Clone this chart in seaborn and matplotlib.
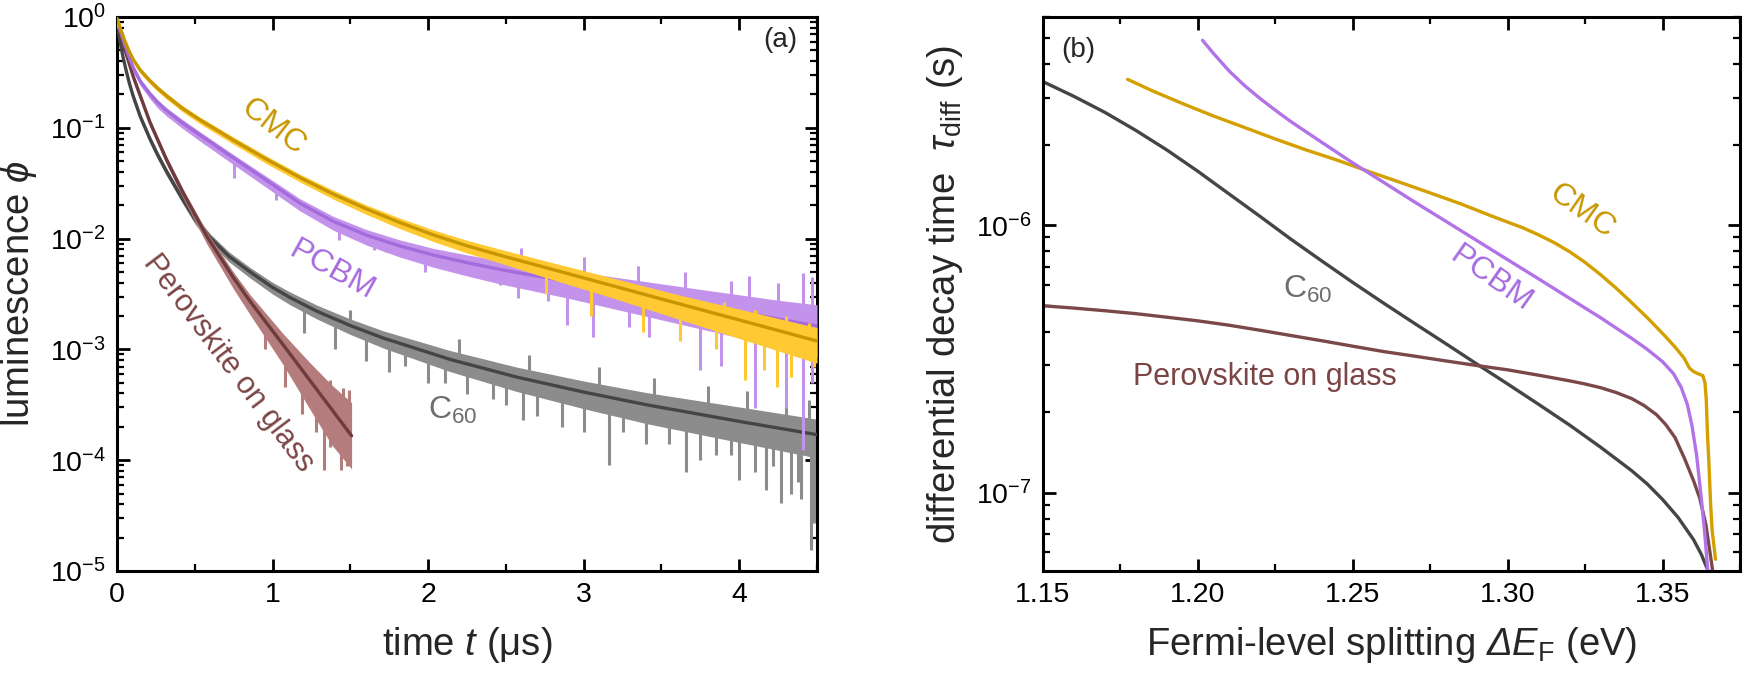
import numpy as np
import pandas as pd
import seaborn as sns
import matplotlib
matplotlib.use("Agg")
import matplotlib.pyplot as plt
from matplotlib.ticker import FixedLocator, MultipleLocator, LogLocator, FuncFormatter, NullFormatter

# ---------------- panel (a): luminescence transients ----------------
cmc_t = [0, 0.008, 0.025, 0.05, 0.075, 0.105, 0.15, 0.212, 0.26, 0.319, 0.42, 0.533, 0.747,
         0.962, 1.176, 1.39, 1.605, 1.819, 2.033, 2.247, 2.461, 2.761, 3.19, 3.618, 4.047, 4.5]
cmc_fit = [0.955, 0.908, 0.759, 0.610, 0.501, 0.412, 0.331, 0.266, 0.229, 0.194, 0.150, 0.118,
           0.0774, 0.0519, 0.0356, 0.0252, 0.0185, 0.01396, 0.01081, 0.00863, 0.00708, 0.00545,
           0.00374, 0.00257, 0.00177, 0.00119]
cmc_up = [0.03, 0.02, 0.02, 0.02, 0.02, 0.02, 0.02, 0.02, 0.02, 0.025, 0.025, 0.025, 0.03, 0.03,
          0.03, 0.035, 0.035, 0.04, 0.045, 0.05, 0.055, 0.06, 0.07, 0.08, 0.10, 0.12]
cmc_dn = [0.08, 0.03, 0.03, 0.03, 0.03, 0.03, 0.03, 0.03, 0.03, 0.03, 0.03, 0.035, 0.035, 0.04,
          0.04, 0.045, 0.05, 0.055, 0.06, 0.065, 0.07, 0.09, 0.11, 0.14, 0.17, 0.20]
cmc_spk_t = [2.76, 3.05, 3.38, 3.62, 3.85, 4.04, 4.16, 4.24, 4.33, 4.48]
cmc_spk = [0.00316, 0.00200, 0.00145, 0.00120, 0.00100, 5.25e-4, 6.46e-4, 4.57e-4, 5.62e-4, 6.92e-4]
cmc_upk_t = [3.9, 4.1, 4.3, 4.45]
cmc_upk = [2.69e-3, 2.29e-3, 2.0e-3, 1.74e-3]

pcbm_t = [0, 0.008, 0.025, 0.05, 0.075, 0.105, 0.15, 0.212, 0.26, 0.319, 0.42, 0.533, 0.747,
          0.962, 1.176, 1.39, 1.605, 1.819, 2.033, 2.247, 2.461, 2.9, 3.3, 3.7, 4.26, 4.5]
pcbm_fit = [0.955, 0.871, 0.724, 0.562, 0.447, 0.347, 0.263, 0.202, 0.170, 0.143, 0.111, 0.0861,
            0.0537, 0.0335, 0.0209, 0.01432, 0.01074, 0.00857, 0.00711, 0.00608, 0.00527,
            0.00409, 0.00325, 0.00258, 0.00187, 0.00163]
pcbm_up = [0.03, 0.02, 0.02, 0.02, 0.02, 0.02, 0.02, 0.025, 0.025, 0.025, 0.03, 0.03, 0.03,
           0.035, 0.04, 0.045, 0.05, 0.055, 0.06, 0.07, 0.08, 0.10, 0.12, 0.14, 0.17, 0.19]
pcbm_dn = [0.08, 0.04, 0.04, 0.04, 0.04, 0.04, 0.04, 0.045, 0.05, 0.05, 0.05, 0.055, 0.06,
           0.065, 0.07, 0.08, 0.09, 0.10, 0.11, 0.12, 0.13, 0.15, 0.18, 0.21, 0.25, 0.28]
pcbm_spk_t = [0.75, 1.02, 1.43, 1.65, 1.73, 1.98, 2.31, 2.46, 2.58, 2.77, 2.89, 3.06, 3.29,
              3.42, 3.75, 3.88, 4.10, 4.30, 4.41, 4.47]
pcbm_spk = [0.0355, 0.0224, 0.00977, 0.00794, 0.00759, 0.00501, 0.00468, 0.00380, 0.00288,
            0.00275, 0.00166, 0.00129, 0.00158, 0.00129, 6.46e-4, 7.08e-4, 2.95e-4, 2.95e-4,
            1.23e-4, 5.01e-4]
pcbm_upk_t = [2.6, 3.0, 3.35, 3.65, 3.95, 4.06, 4.25, 4.41, 4.47]
pcbm_upk = [8.3e-3, 6.76e-3, 5.62e-3, 5.01e-3, 4.17e-3, 4.57e-3, 3.98e-3, 4.9e-3, 4.47e-3]

c60_t = [0, 0.01, 0.019, 0.04, 0.06, 0.08, 0.103, 0.15, 0.212, 0.26, 0.321, 0.424, 0.5, 0.598,
         0.72, 0.855, 1.0, 1.11, 1.285, 1.5, 1.709, 2.14, 2.571, 3.0, 3.406, 4.0, 4.5]
c60_fit = [0.912, 0.724, 0.603, 0.427, 0.324, 0.251, 0.195, 0.126, 0.0794, 0.0575, 0.0398,
           0.0224, 0.0151, 0.01023, 0.00692, 0.00501, 0.00363, 0.00295, 0.00221, 0.00164,
           0.00127, 8.13e-4, 5.62e-4, 4.12e-4, 3.16e-4, 2.24e-4, 1.70e-4]
c60_up = [0.05, 0.03, 0.03, 0.03, 0.03, 0.03, 0.03, 0.03, 0.03, 0.03, 0.03, 0.03, 0.035, 0.035,
          0.04, 0.04, 0.045, 0.05, 0.055, 0.06, 0.065, 0.08, 0.09, 0.10, 0.11, 0.13, 0.14]
c60_dn = [0.08, 0.04, 0.04, 0.04, 0.04, 0.04, 0.04, 0.04, 0.04, 0.04, 0.04, 0.04, 0.045, 0.05,
          0.05, 0.055, 0.06, 0.065, 0.07, 0.08, 0.09, 0.11, 0.13, 0.15, 0.17, 0.19, 0.21]
c60_spk_t = [1.2, 1.4, 1.6, 1.75, 1.85, 2.0, 2.11, 2.25, 2.42, 2.5, 2.61, 2.7, 2.86, 3.0, 3.16,
             3.25, 3.40, 3.55, 3.66, 3.75, 3.85, 3.95, 4.00, 4.1, 4.17, 4.22, 4.27, 4.33, 4.38,
             4.40, 4.46, 4.48]
c60_spk = [1.41e-3, 1.0e-3, 7.9e-4, 6.3e-4, 7.08e-4, 5.0e-4, 5.01e-4, 3.98e-4, 3.55e-4, 3.16e-4,
           2.29e-4, 2.51e-4, 2.0e-4, 1.78e-4, 9.1e-5, 1.78e-4, 1.41e-4, 1.41e-4, 7.9e-5, 1.0e-4,
           1.12e-4, 1.12e-4, 6.6e-5, 7.9e-5, 5.4e-5, 8.9e-5, 4.1e-5, 5.0e-5, 6.3e-5, 4.5e-5,
           1.55e-5, 2.7e-5]
c60_upk_t = [1.5, 2.2, 2.65, 3.1, 3.45, 3.8, 4.05, 4.3, 4.45]
c60_upk = [2.29e-3, 1.23e-3, 8.9e-4, 6.9e-4, 5.5e-4, 4.7e-4, 4.2e-4, 3.8e-4, 3.5e-4]

perov_t = [0, 0.019, 0.05, 0.105, 0.212, 0.319, 0.426, 0.578, 0.747, 0.855, 1.069, 1.24,
           1.38, 1.508]
perov_fit = [0.955, 0.741, 0.513, 0.288, 0.112, 0.0513, 0.0257, 0.01047, 0.00447, 0.00272,
             0.001096, 5.25e-4, 2.88e-4, 1.66e-4]
perov_up = [0.05, 0.03, 0.03, 0.03, 0.03, 0.03, 0.035, 0.04, 0.05, 0.06, 0.10, 0.16, 0.22, 0.30]
perov_dn = [0.08, 0.04, 0.04, 0.04, 0.04, 0.04, 0.05, 0.07, 0.10, 0.12, 0.18, 0.26, 0.32, 0.30]
perov_spk_t = [0.95, 1.08, 1.19, 1.28, 1.33, 1.37, 1.44, 1.48]
perov_spk = [1.0e-3, 4.57e-4, 2.63e-4, 1.78e-4, 8.1e-5, 1.32e-4, 8.1e-5, 8.9e-5]
perov_upk_t = [1.14, 1.25, 1.37, 1.45, 1.49]
perov_upk = [1.0e-3, 7.1e-4, 5.25e-4, 4.47e-4, 4.27e-4]

# ---------------- panel (b): differential decay time ----------------
c60_E = [1.150, 1.160, 1.170, 1.180, 1.190, 1.200, 1.210, 1.220, 1.230, 1.240, 1.250, 1.260,
         1.270, 1.280, 1.290, 1.300, 1.310, 1.320, 1.330, 1.340, 1.345, 1.350, 1.355, 1.360,
         1.3625, 1.3650]
c60_tau = [3.44e-6, 3.03e-6, 2.64e-6, 2.26e-6, 1.91e-6, 1.59e-6, 1.31e-6, 1.08e-6, 8.87e-7,
           7.35e-7, 6.11e-7, 5.11e-7, 4.29e-7, 3.61e-7, 3.03e-7, 2.55e-7, 2.14e-7, 1.79e-7,
           1.48e-7, 1.21e-7, 1.08e-7, 9.44e-8, 8.09e-8, 6.68e-8, 5.89e-8, 5.01e-8]

pcbm_E = [1.2015, 1.205, 1.210, 1.215, 1.220, 1.225, 1.230, 1.240, 1.250, 1.260, 1.270, 1.280,
          1.290, 1.300, 1.310, 1.320, 1.330, 1.340, 1.345, 1.350, 1.3535, 1.356, 1.358, 1.3595,
          1.361, 1.3625, 1.3636, 1.3646]
pcbm_tau = [4.91e-6, 4.39e-6, 3.78e-6, 3.33e-6, 2.98e-6, 2.69e-6, 2.44e-6, 2.04e-6, 1.71e-6,
            1.445e-6, 1.22e-6, 1.035e-6, 8.77e-7, 7.43e-7, 6.30e-7, 5.33e-7, 4.51e-7, 3.78e-7,
            3.44e-7, 3.09e-7, 2.79e-7, 2.48e-7, 2.14e-7, 1.78e-7, 1.38e-7, 9.55e-8, 7.08e-8,
            5.13e-8]

cmc_E = [1.1773, 1.185, 1.195, 1.205, 1.215, 1.225, 1.235, 1.245, 1.255, 1.265, 1.275, 1.285,
         1.295, 1.305, 1.310, 1.315, 1.320, 1.325, 1.330, 1.335, 1.340, 1.345, 1.350, 1.354,
         1.357, 1.3587, 1.360, 1.361, 1.362, 1.363, 1.3637, 1.3641, 1.3645, 1.3650, 1.3655,
         1.3660, 1.3671]
cmc_tau = [3.51e-6, 3.19e-6, 2.85e-6, 2.56e-6, 2.32e-6, 2.10e-6, 1.91e-6, 1.75e-6, 1.59e-6,
           1.45e-6, 1.32e-6, 1.20e-6, 1.08e-6, 9.77e-7, 9.20e-7, 8.61e-7, 7.96e-7, 7.26e-7,
           6.53e-7, 5.82e-7, 5.14e-7, 4.52e-7, 3.94e-7, 3.51e-7, 3.18e-7, 2.92e-7, 2.84e-7,
           2.80e-7, 2.77e-7, 2.74e-7, 2.57e-7, 2.24e-7, 1.66e-7, 1.26e-7, 9.12e-8, 7.24e-8,
           5.64e-8]

perov_E = [1.150, 1.160, 1.170, 1.180, 1.190, 1.200, 1.210, 1.220, 1.230, 1.240, 1.250, 1.260,
           1.270, 1.280, 1.290, 1.300, 1.310, 1.320, 1.325, 1.330, 1.335, 1.340, 1.344, 1.348,
           1.351, 1.354, 1.357, 1.360, 1.362, 1.364, 1.3662]
perov_tau = [5.00e-7, 4.90e-7, 4.79e-7, 4.67e-7, 4.53e-7, 4.39e-7, 4.23e-7, 4.05e-7, 3.87e-7,
             3.70e-7, 3.53e-7, 3.37e-7, 3.24e-7, 3.11e-7, 2.99e-7, 2.88e-7, 2.75e-7, 2.62e-7,
             2.55e-7, 2.47e-7, 2.37e-7, 2.25e-7, 2.12e-7, 1.96e-7, 1.80e-7, 1.61e-7, 1.35e-7,
             1.11e-7, 9.55e-8, 7.59e-8, 5.09e-8]

a_xticks = [0, 1, 2, 3, 4]
b_xticks = [1.15, 1.20, 1.25, 1.30, 1.35]

# ---------------- style ----------------
sns.set_theme(style="white")
FAM = ["Liberation Sans", "DejaVu Sans"]
plt.rcParams["font.family"] = FAM
plt.rcParams["mathtext.fontset"] = "custom"
plt.rcParams["mathtext.rm"] = "Liberation Sans"
plt.rcParams["mathtext.it"] = "Liberation Sans:italic"
plt.rcParams["mathtext.sf"] = "Liberation Sans:italic"
plt.rcParams["mathtext.bf"] = "Liberation Sans:bold"
plt.rcParams["axes.linewidth"] = 2.2
plt.rcParams["axes.edgecolor"] = "black"

fig = plt.figure(figsize=(17.47, 6.78), dpi=100)
axA = fig.add_axes([117 / 1747, 107 / 678, 700 / 1747, 554 / 678])
axB = fig.add_axes([1043 / 1747, 107 / 678, 697 / 1747, 554 / 678])

series_a = [
    (c60_t, c60_fit, c60_up, c60_dn, c60_spk_t, c60_spk, c60_upk_t, c60_upk, "#8C8C8C", "#454545"),
    (perov_t, perov_fit, perov_up, perov_dn, perov_spk_t, perov_spk, perov_upk_t, perov_upk,
     "#B47C7C", "#6E3C3C"),
    (pcbm_t, pcbm_fit, pcbm_up, pcbm_dn, pcbm_spk_t, pcbm_spk, pcbm_upk_t, pcbm_upk,
     "#C393EC", "#A46BDD"),
    (cmc_t, cmc_fit, cmc_up, cmc_dn, cmc_spk_t, cmc_spk, cmc_upk_t, cmc_upk, "#FFC933", "#C89600"),
]

z = 2
for t, fit, up, dn, spk_t, spk, upk_t, upk, cband, cfit in series_a:
    t = np.asarray(t)
    lf = np.log10(fit)
    upper = 10 ** (lf + np.asarray(up))
    lower = 10 ** (lf - np.asarray(dn))
    axA.fill_between(t, lower, upper, color=cband, lw=0, zorder=z)
    anchor = 10 ** np.interp(spk_t, t, lf)
    axA.vlines(spk_t, spk, anchor, color=cband, lw=2.2, zorder=z)
    anchor_u = 10 ** np.interp(upk_t, t, lf)
    axA.vlines(upk_t, anchor_u, upk, color=cband, lw=2.2, zorder=z)
    df = pd.DataFrame({"t": t, "phi": fit})
    sns.lineplot(data=df, x="t", y="phi", ax=axA, color=cfit, lw=2.4, sort=False,
                 estimator=None, zorder=z + 1)
    z += 2

axA.set_yscale("log")
axA.set_xlim(0, 4.5)
axA.set_ylim(1e-5, 1)

series_b = [
    (c60_E, c60_tau, "#454545"),
    (perov_E, perov_tau, "#7A4848"),
    (cmc_E, cmc_tau, "#D4A000"),
    (pcbm_E, pcbm_tau, "#B273E8"),
]
for E, tau, col in series_b:
    df = pd.DataFrame({"E": E, "tau": tau})
    sns.lineplot(data=df, x="E", y="tau", ax=axB, color=col, lw=2.4, sort=False, estimator=None)

axB.set_yscale("log")
axB.set_xlim(1.15, 1.375)
axB.set_ylim(5.1e-8, 6.0e-6)


def pow_fmt(v, _):
    e = int(round(np.log10(v)))
    return r"10$^{%d}$" % e


for ax in (axA, axB):
    ax.tick_params(which="both", direction="in", top=True, right=True, bottom=True, left=True,
                   width=2.0, labelsize=20.5, pad=8, colors="black")
    ax.tick_params(which="major", length=9)
    ax.tick_params(which="minor", length=5, width=1.6)
    ax.yaxis.set_major_formatter(FuncFormatter(pow_fmt))
    ax.yaxis.set_minor_locator(LogLocator(base=10, subs=np.arange(2, 10)))
    ax.yaxis.set_minor_formatter(NullFormatter())
    ax.grid(False)
    for s in ax.spines.values():
        s.set_visible(True)
        s.set_linewidth(2.2)
        s.set_color("black")

axA.yaxis.set_major_locator(LogLocator(base=10, numticks=10))
axA.xaxis.set_major_locator(FixedLocator(a_xticks))
axA.xaxis.set_minor_locator(MultipleLocator(0.5))
axA.xaxis.set_major_formatter(FuncFormatter(lambda v, _: "%d" % round(v)))

axB.yaxis.set_major_locator(LogLocator(base=10, numticks=10))
axB.xaxis.set_major_locator(FixedLocator(b_xticks))
axB.xaxis.set_minor_locator(MultipleLocator(0.025))
axB.xaxis.set_major_formatter(FuncFormatter(lambda v, _: "%.2f" % v))

axA.set_xlabel(r"time $t$ (μs)", fontsize=27.5, labelpad=12)
axA.set_ylabel(r"luminescence $\phi$", fontsize=27.5, labelpad=8)
# \mathsf is mapped to the italic face so that the capital Delta is slanted
axB.set_xlabel(r"Fermi-level splitting $\mathsf{Δ}\mathit{E}_{\mathrm{F}}$ (eV)",
               fontsize=27.5, labelpad=12)
axB.set_ylabel(r"differential decay time  $\tau_{\mathrm{diff}}$ (s)", fontsize=27.5, labelpad=8)

# annotations panel (a)
axA.text(1.005, 10 ** -0.99, "CMC", color="#C89600", fontsize=23, rotation=-38,
         ha="center", va="center", zorder=20)
axA.text(1.38, 10 ** -2.283, "PCBM", color="#A66BE0", fontsize=23, rotation=-29,
         ha="center", va="center", zorder=20)
axA.text(2.16, 10 ** -3.55, r"C$_{60}$", color="#6E6E6E", fontsize=23,
         ha="center", va="center", zorder=20)
axA.text(0.713, 10 ** -3.123, "Perovskite on glass", color="#7B4545", fontsize=22,
         rotation=-53, ha="center", va="center", zorder=20)
axA.text(0.947, 0.958, "(a)", transform=axA.transAxes, fontsize=20, ha="center", va="center")

# annotations panel (b)
axB.text(1.3239, 10 ** -5.948, "CMC", color="#C89600", fontsize=23, rotation=-35,
         ha="center", va="center")
axB.text(1.2947, 10 ** -6.20, "PCBM", color="#A66BE0", fontsize=23, rotation=-35,
         ha="center", va="center")
axB.text(1.2354, 10 ** -6.24, r"C$_{60}$", color="#6E6E6E", fontsize=23,
         ha="center", va="center")
axB.text(1.2216, 10 ** -6.566, "Perovskite on glass", color="#7B4545", fontsize=22,
         ha="center", va="center")
axB.text(0.05, 0.94, "(b)", transform=axB.transAxes, fontsize=20, ha="center", va="center")

fig.savefig("out.png", dpi=100)
